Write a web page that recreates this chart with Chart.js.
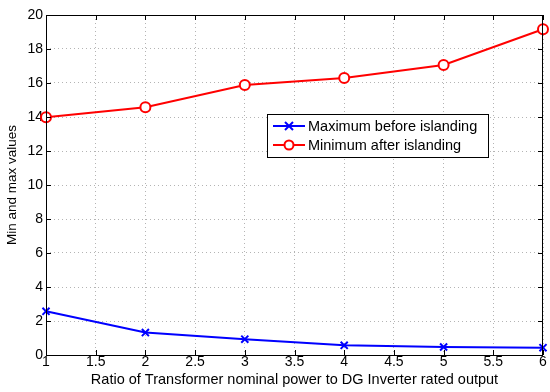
<!DOCTYPE html>
<html>
<head>
<meta charset="utf-8">
<script src="https://cdn.jsdelivr.net/npm/chart.js@4.4.1/dist/chart.umd.min.js"></script>
<style>
  html, body { margin: 0; padding: 0; background: #fff; }
  #wrap { width: 550px; height: 392px; }
</style>
</head>
<body>
<div id="wrap"><canvas id="chart" width="550" height="392"></canvas></div>
<script>
// values
const ratios = [1, 2, 3, 4, 5, 6];
const maxBefore = [2.57, 1.32, 0.93, 0.57, 0.47, 0.43];
const minAfter = [13.98, 14.57, 15.88, 16.29, 17.06, 19.16];
const xTicks = [1, 1.5, 2, 2.5, 3, 3.5, 4, 4.5, 5, 5.5, 6];

const FONT = 'Liberation Sans, Arial, sans-serif';

// box, inward tick marks and the boxed legend, matlab style
const matlabFrame = {
  id: 'matlabFrame',
  afterDraw(chart) {
    const { ctx, chartArea: a, scales } = chart;
    ctx.save();
    ctx.strokeStyle = '#000';
    ctx.lineWidth = 1;
    ctx.strokeRect(a.left + 0.5, a.top + 0.5, a.right - a.left - 1, a.bottom - a.top);
    ctx.beginPath();
    scales.x.ticks.forEach(t => {
      const px = Math.round(scales.x.getPixelForValue(t.value)) + 0.5;
      ctx.moveTo(px, a.bottom); ctx.lineTo(px, a.bottom - 5);
      ctx.moveTo(px, a.top); ctx.lineTo(px, a.top + 5);
    });
    scales.y.ticks.forEach(t => {
      const py = Math.round(scales.y.getPixelForValue(t.value)) + 0.5;
      ctx.moveTo(a.left, py); ctx.lineTo(a.left + 5, py);
      ctx.moveTo(a.right, py); ctx.lineTo(a.right - 5, py);
    });
    ctx.stroke();

    // legend
    const lx = 267, ly = 114, lw = 221, lh = 43;
    ctx.fillStyle = '#fff';
    ctx.fillRect(lx, ly, lw, lh);
    ctx.strokeRect(lx + 0.5, ly + 0.5, lw, lh);
    ctx.font = '14.5px ' + FONT;
    ctx.textBaseline = 'middle';
    chart.data.datasets.forEach((ds, i) => {
      const y = ly + 12 + i * 19;
      const mx = lx + 22;
      ctx.strokeStyle = ds.borderColor;
      ctx.lineWidth = 2;
      ctx.beginPath();
      ctx.moveTo(lx + 6, y); ctx.lineTo(lx + 38, y);
      ctx.stroke();
      ctx.beginPath();
      if (ds.pointStyle === 'crossRot') {
        ctx.moveTo(mx - 4, y - 4); ctx.lineTo(mx + 4, y + 4);
        ctx.moveTo(mx - 4, y + 4); ctx.lineTo(mx + 4, y - 4);
      } else {
        ctx.arc(mx, y, 4.5, 0, Math.PI * 2);
        ctx.fillStyle = '#fff';
        ctx.fill();
      }
      ctx.stroke();
      ctx.fillStyle = '#000';
      ctx.fillText(ds.label, lx + 41, y + 1);
    });
    ctx.restore();
  }
};

new Chart(document.getElementById('chart'), {
  type: 'line',
  data: {
    datasets: [
      {
        label: 'Maximum before islanding',
        data: ratios.map((x, i) => ({ x, y: maxBefore[i] })),
        borderColor: '#0000ff',
        backgroundColor: '#0000ff',
        borderWidth: 2,
        pointStyle: 'crossRot',
        pointRadius: 5,
        pointBorderWidth: 2,
        tension: 0
      },
      {
        label: 'Minimum after islanding',
        data: ratios.map((x, i) => ({ x, y: minAfter[i] })),
        borderColor: '#ff0000',
        backgroundColor: '#ffffff',
        borderWidth: 2,
        pointStyle: 'circle',
        pointRadius: 5,
        pointBorderWidth: 2,
        tension: 0
      }
    ]
  },
  options: {
    responsive: false,
    animation: false,
    clip: false,
    layout: { padding: { top: 15, right: 2, left: 0, bottom: 0 } },
    plugins: { legend: { display: false }, tooltip: { enabled: false } },
    scales: {
      x: {
        type: 'linear',
        min: 1, max: 6,
        afterBuildTicks: s => { s.ticks = xTicks.map(v => ({ value: v })); },
        afterFit: s => { s.height = 37; },
        ticks: { color: '#000', font: { family: FONT, size: 14 }, padding: -1, maxRotation: 0, autoSkip: false,
                 callback: v => String(v) },
        grid: { color: '#b4b4b4', lineWidth: 1, drawTicks: false },
        border: { display: false, dash: [1, 3] },
        title: { display: true, text: 'Ratio of Transformer nominal power to DG Inverter rated output',
                 color: '#000', font: { family: FONT, size: 14.5 }, padding: { top: 0, bottom: 3 } }
      },
      y: {
        min: 0, max: 20,
        ticks: { stepSize: 2, color: '#000', font: { family: FONT, size: 14 }, padding: 3 },
        afterFit: s => { s.width = 46; },
        grid: { color: '#b4b4b4', lineWidth: 1, drawTicks: false },
        border: { display: false, dash: [1, 3] },
        title: { display: true, text: 'Min and max values',
                 color: '#000', font: { family: FONT, size: 13.5 }, padding: { top: 4, bottom: 0 } }
      }
    }
  },
  plugins: [matlabFrame]
});
</script>
</body>
</html>
